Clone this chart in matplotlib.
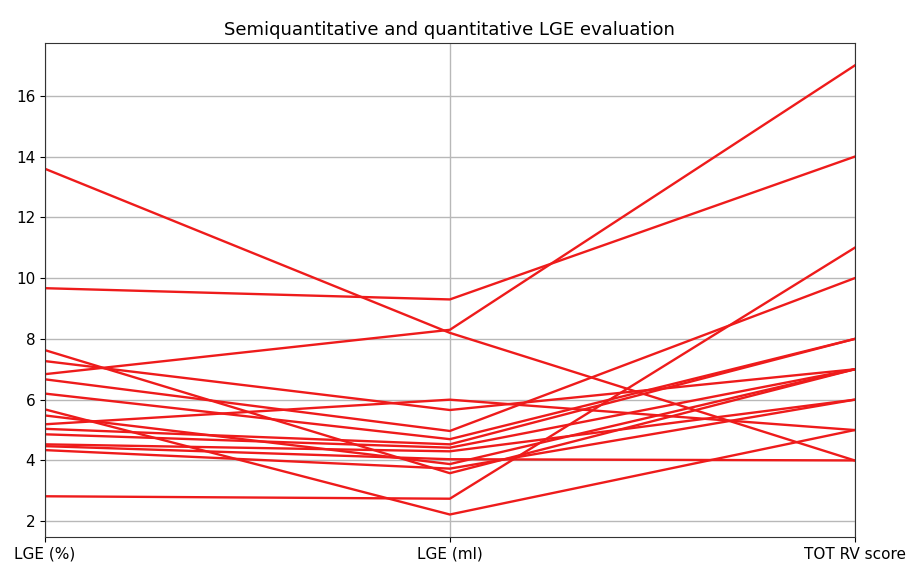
import pandas as pd
import matplotlib
matplotlib.use("Agg")
import matplotlib.pyplot as plt

# values, one entry per patient
columns = ["LGE (%)", "LGE (ml)", "TOT RV score"]
lge_pct = [13.6, 9.67, 6.84, 7.27, 7.63, 5.19, 2.82, 5.68, 6.67, 6.2, 5.48, 5.04, 4.86, 4.53, 4.47, 4.34]
lge_ml = [8.2, 9.3, 8.3, 5.66, 3.58, 6.0, 2.74, 2.22, 4.97, 4.7, 3.88, 4.53, 4.42, 4.3, 4.04, 3.73]
tot_rv = [4, 14, 17, 7, 7, 5, 11, 5, 10, 8, 7, 8, 7, 6, 4, 6]

df = pd.DataFrame({columns[0]: lge_pct, columns[1]: lge_ml, columns[2]: tot_rv})

fig = plt.figure(figsize=(9.19, 5.67), dpi=100)
ax = fig.add_axes([0.049, 0.053, 0.881, 0.871])

x = list(range(len(columns)))
for _, row in df.iterrows():
    ax.plot(x, row.values, color="#ee1b1b", linewidth=1.7)

ax.set_xticks(x)
ax.set_xticklabels(columns, fontsize=11)
ax.tick_params(axis="y", labelsize=11)
ax.set_xlim(x[0], x[-1])
ax.grid(True, color="#b8b8b8", linewidth=1)
ax.set_axisbelow(True)
for s in ax.spines.values():
    s.set_color("#333333")
ax.set_title("Semiquantitative and quantitative LGE evaluation", fontsize=13)

plt.savefig("out.png", dpi=100)
